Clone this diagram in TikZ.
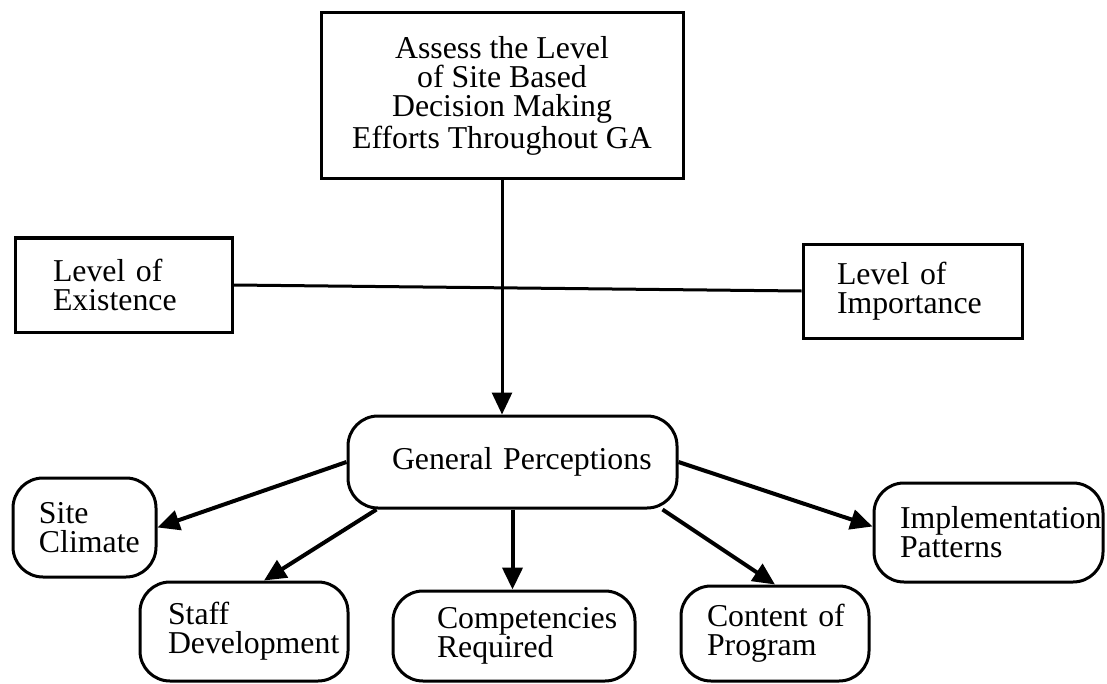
\documentclass[tikz,border=0pt]{standalone}
\usepackage{fontspec}
\setmainfont{Liberation Serif}
\usetikzlibrary{arrows.meta}
\hyphenpenalty=10000

\begin{document}
\begin{tikzpicture}[x=0.5pt, y=-0.5pt, line width=1.5pt,
      every node/.style = {draw, line width=1.5pt,
        font=\fontsize{15.9}{14.5}\selectfont},
      sqbox/.style = {shape=rectangle, align=left},
      rndbox/.style = {shape=rectangle, rounded corners=15pt, align=left},
      link/.style = {line width=2pt, -{Triangle[length=11pt,width=10pt]}}]
  \useasboundingbox (0,0) rectangle (1107,684);
  \node[sqbox, align=center, minimum width=181pt, minimum height=83pt] (top) at (502,96)
    {Assess the Level\\of Site Based\\Decision Making\\Efforts Throughout GA};
  \node[sqbox, text width=70.5pt, inner xsep=19pt, minimum height=47pt] (exist) at (123.5,285)
    {Level~of\\Existence};
  \node[sqbox, text width=75.5pt, inner xsep=17pt, minimum height=47pt] (import) at (912.5,291)
    {Level~of\\Importance};
  \node[rndbox, text width=120.5pt, inner xsep=22pt, minimum height=46pt] (gp) at (512.5,462)
    {General~Perceptions};
  \node[rndbox, text width=45.5pt, inner xsep=13pt, minimum height=49.5pt] (sc) at (84.5,527.5)
    {Site\\Climate};
  \node[rndbox, text width=76pt, inner xsep=14pt, minimum height=49.5pt] (staff) at (244,631.5)
    {Staff\\Development};
  \node[rndbox, text width=77pt, inner xsep=22pt, minimum height=45pt] (comp) at (514,636)
    {Competencies\\Required};
  \node[rndbox, text width=68pt, inner xsep=13pt, minimum height=47.5pt] (content) at (775,633.5)
    {Content~of\\Program};
  \node[rndbox, text width=88.5pt, inner xsep=13pt, minimum height=49.5pt] (impl) at (988.5,532.5)
    {Implementation\\Patterns};
  \draw (exist.east) -- (import.west);
  \draw[link, line width=1.5pt] (top.south) -- (top.south |- gp.north);
  \draw[link] (gp.west) -- (sc.east);
  \draw[link] ([xshift=15pt]gp.south west) -- ([xshift=10pt]staff.north);
  \draw[link] (gp.south) -- (gp.south |- comp.north);
  \draw[link] ([xshift=-8pt]gp.south east) -- (content.north);
  \draw[link] (gp.east) -- ([yshift=3pt]impl.west);
\end{tikzpicture}
\end{document}
